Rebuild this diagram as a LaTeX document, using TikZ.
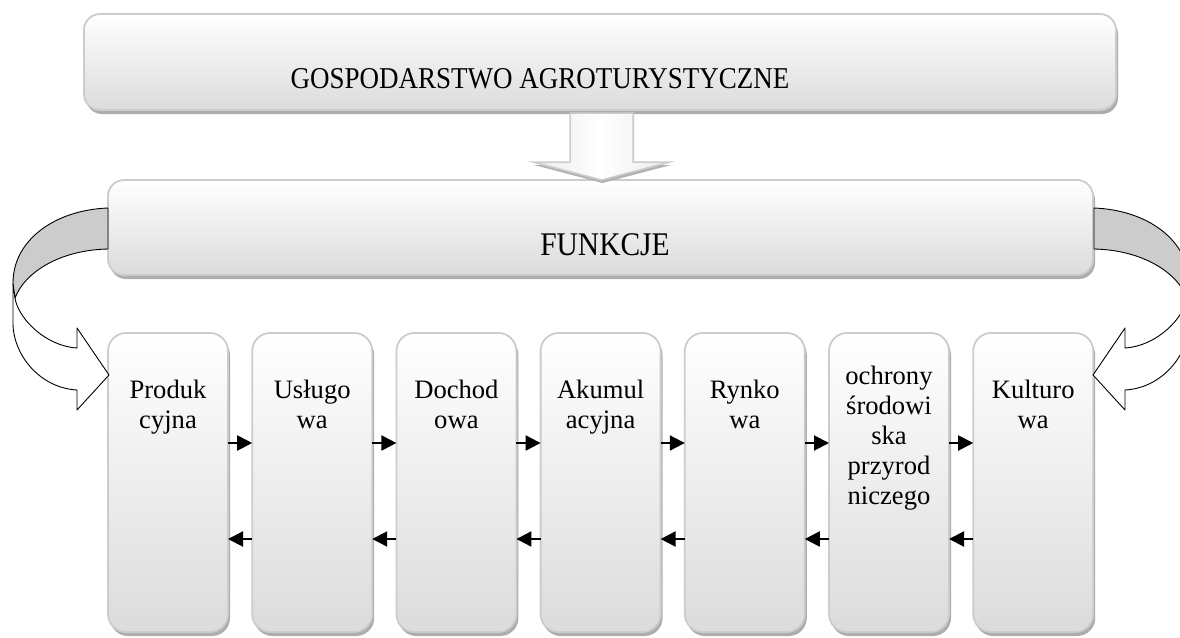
\documentclass[tikz,border=0pt]{standalone}
\usepackage{fontspec}
\setmainfont{Liberation Serif}
\usetikzlibrary{arrows.meta}
\begin{document}
\begin{tikzpicture}[x=1pt,y=-1pt,
  panel/.style={draw=black!20, line width=1.8pt, top color=white, bottom color=black!14,
    inner sep=0pt, outer sep=0pt,
    preaction={fill=black!32, transform canvas={xshift=2pt,yshift=-4pt}}},
  wide/.style={panel, rounded corners=16pt},
  tile/.style={panel, rounded corners=18pt, minimum width=120pt, minimum height=299pt},
  title/.style={anchor=base, inner sep=0pt},
  tiletext/.style={anchor=north, inner sep=0pt, align=center, font=\fontsize{26.6pt}{30pt}\selectfont},
  flow/.style={line width=2pt, -{Triangle[length=15pt,width=15pt]}},
  band/.style={draw=black, line width=0.9pt, fill=black!20, line join=round},
  bandback/.style={draw=black, line width=0.9pt, fill=white, line join=round}
]
\useasboundingbox (0,0) rectangle (1180,637);
\clip (0,0) rectangle (1180,637);

% main boxes
\node[wide, minimum width=1032pt, minimum height=96pt] (farm) at (600,62) {};
\node[title, font=\fontsize{27pt}{32pt}\selectfont] (farmtext) at (540,88)
  {\scalebox{1}[1.12]{GOSPODARSTWO AGROTURYSTYCZNE}};

\node[wide, minimum width=985pt, minimum height=95pt] (func) at (600.5,227.5) {};
\node[title, font=\fontsize{29.5pt}{34pt}\selectfont] (functext) at (605,255)
  {\scalebox{1}[1.12]{FUNKCJE}};

% block arrow from the farm to its functions
\path[draw=black!20, line width=1.5pt, left color=black!8, right color=black!8, middle color=white,
      preaction={fill=black!30, transform canvas={xshift=1pt,yshift=-3pt}}]
  (570,113) -- (633,113) -- (633,162) -- (670,162) -- (601.5,180) -- (533,162) -- (570,162) -- cycle;

% the seven functions
\node[tile] (b1) at (168,482.5) {};
\node[tile] (b2) at (312.2,482.5) {};
\node[tile] (b3) at (456.4,482.5) {};
\node[tile] (b4) at (600.6,482.5) {};
\node[tile] (b5) at (744.8,482.5) {};
\node[tile] (b6) at (889,482.5) {};
\node[tile] (b7) at (1033.2,482.5) {};

\node[tiletext] (t1) at (168,377) {\strut Produk\\\strut cyjna};
\node[tiletext] (t2) at (312.2,377) {\strut Usługo\\\strut wa};
\node[tiletext] (t3) at (456.4,377) {\strut Dochod\\\strut owa};
\node[tiletext] (t4) at (600.6,377) {\strut Akumul\\\strut acyjna};
\node[tiletext] (t5) at (744.8,377) {\strut Rynko\\\strut wa};
\node[tiletext] (t6) at (889,363) {\strut ochrony\\\strut środowi\\\strut ska\\\strut przyrod\\\strut niczego};
\node[tiletext] (t7) at (1033.2,377) {\strut Kulturo\\\strut wa};

% links between neighbouring functions
\foreach \a/\b in {b1/b2,b2/b3,b3/b4,b4/b5,b5/b6,b6/b7}{
  \draw[flow] ([yshift=39.5pt]\a.east) -- ([yshift=39.5pt]\b.west);
  \draw[flow] ([yshift=-56.5pt]\b.west) -- ([yshift=-56.5pt]\a.east);
}

% curved arrows from the functions box down to the outer tiles
\foreach \s in {1,-1}{
  \begin{scope}[shift={({(1-\s)*601},0)}, xscale=\s]
    \path[bandback] (15,298) .. controls (18,318) and (45,346) .. (77,348)
      -- (77,328) -- (109,375) -- (77,410) -- (77,390)
      .. controls (40,388) and (13,355) .. (13,323) -- (13,283) -- cycle;
    \path[band] (108,208) .. controls (55,210) and (13,240) .. (13,283)
      -- (15,298) .. controls (25,272) and (60,250) .. (108,249) -- cycle;
  \end{scope}
}
\end{tikzpicture}
\end{document}
